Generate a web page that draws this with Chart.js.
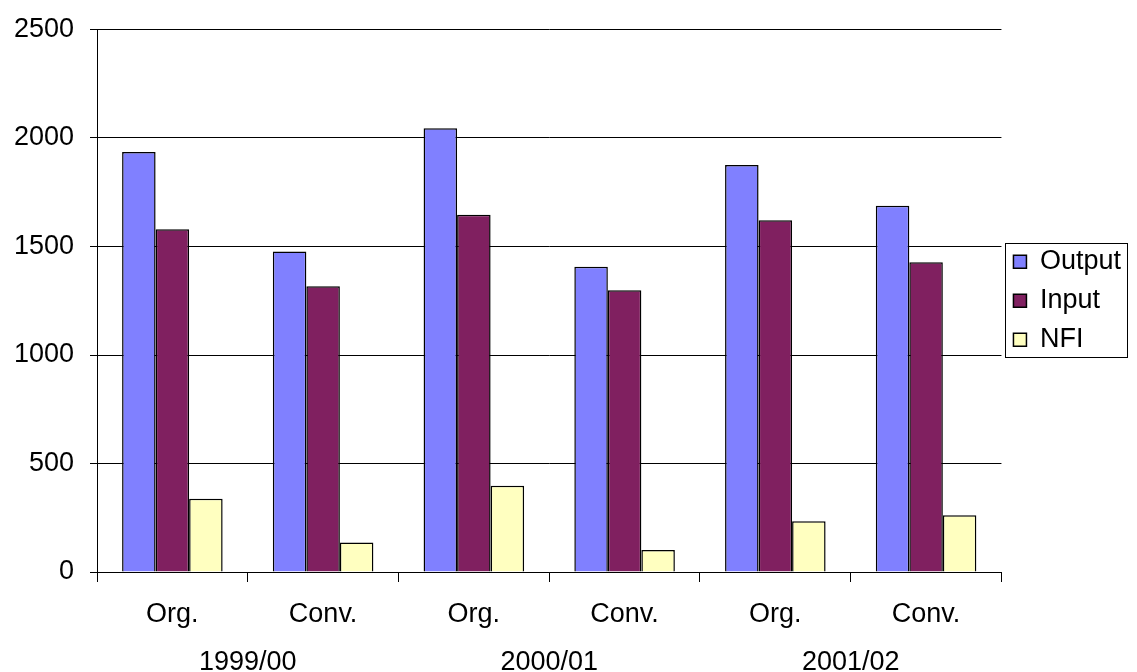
<!DOCTYPE html>
<html>
<head>
<meta charset="utf-8">
<script src="https://cdn.jsdelivr.net/npm/chart.js@4/dist/chart.umd.min.js"></script>
<style>
  html, body { margin: 0; padding: 0; background: #fff; }
  #wrap { width: 1137px; height: 672px; position: relative; }
</style>
</head>
<body>
<div id="wrap"><canvas id="c"></canvas></div>
<script>
// Farm income per hectare: organic vs conventional farms, three seasons
const farmTypes = ['Org.', 'Conv.', 'Org.', 'Conv.', 'Org.', 'Conv.'];
const years = ['1999/00', '2000/01', '2001/02'];
const outputValues = [1935, 1477, 2045, 1407, 1876, 1688];
const inputValues = [1580, 1317, 1646, 1298, 1621, 1427];
const nfiValues = [338, 136, 398, 101, 234, 261];
const yTicks = [0, 500, 1000, 1500, 2000, 2500];

const FONT = "'Liberation Sans', Arial, sans-serif";
const TEXT = { family: FONT, size: 27, lineHeight: 1 };

// Frame drawn around the legend, sized from the legend's own item boxes
const legendFrame = {
  id: 'legendFrame',
  afterDraw(chart) {
    const lg = chart.legend;
    if (!lg || !lg.legendHitBoxes || !lg.legendHitBoxes.length) return;
    const hb = lg.legendHitBoxes;
    const left = Math.min(...hb.map(b => b.left)) - 8;
    const right = Math.min(Math.max(...hb.map(b => b.left + b.width)) + 6, chart.width - 1);
    const top = Math.min(...hb.map(b => b.top)) - 5;
    const bottom = Math.max(...hb.map(b => b.top + b.height)) + 4;
    const ctx = chart.ctx;
    ctx.save();
    ctx.strokeStyle = '#000';
    ctx.lineWidth = 1;
    ctx.strokeRect(Math.round(left) + 0.5, Math.round(top) + 0.5,
                   Math.round(right - left), Math.round(bottom - top));
    ctx.restore();
  }
};

new Chart(document.getElementById('c'), {
  type: 'bar',
  data: {
    labels: farmTypes,
    datasets: [
      { label: 'Output', data: outputValues, backgroundColor: '#8080FF', borderColor: '#000', borderWidth: 1.5 },
      { label: 'Input', data: inputValues, backgroundColor: '#802060', borderColor: '#000', borderWidth: 1.5 },
      { label: 'NFI', data: nfiValues, backgroundColor: '#FFFFC0', borderColor: '#000', borderWidth: 1.5 }
    ]
  },
  options: {
    responsive: true,
    maintainAspectRatio: false,
    animation: false,
    layout: { padding: { top: 11, left: 0, right: 6, bottom: 0 } },
    datasets: { bar: { categoryPercentage: 0.667, barPercentage: 1.0 } },
    plugins: {
      legend: {
        position: 'right',
        fullSize: false,
        align: 'center',
        labels: {
          boxWidth: 13,
          boxHeight: 13,
          padding: 12,
          color: '#000',
          font: TEXT
        }
      },
      tooltip: { enabled: false }
    },
    scales: {
      x: {
        type: 'category',
        offset: true,
        grid: { offset: true, drawOnChartArea: false, drawTicks: true, tickLength: 10, color: '#000', lineWidth: 1 },
        border: { display: true, color: '#000', width: 1 },
        ticks: { color: '#000', padding: 19.5, maxRotation: 0, autoSkip: false, font: TEXT },
        afterFit(scale) { scale.height = 72; }
      },
      years: {
        type: 'category',
        labels: years,
        position: 'bottom',
        offset: true,
        grid: { display: false, drawTicks: false },
        border: { display: false },
        ticks: { color: '#000', padding: 5.5, maxRotation: 0, autoSkip: false, font: TEXT },
        afterFit(scale) { scale.height = 28; }
      },
      y: {
        min: 0,
        max: 2500,
        afterBuildTicks(scale) { scale.ticks = yTicks.map(v => ({ value: v })); },
        afterFit(scale) { scale.width = 97; },
        grid: { color: '#000', lineWidth: 1, drawTicks: true, tickLength: 7 },
        border: { display: true, color: '#000', width: 1 },
        ticks: { color: '#000', padding: 16, font: TEXT, callback: v => String(v) }
      }
    }
  },
  plugins: [legendFrame]
});
</script>
</body>
</html>
